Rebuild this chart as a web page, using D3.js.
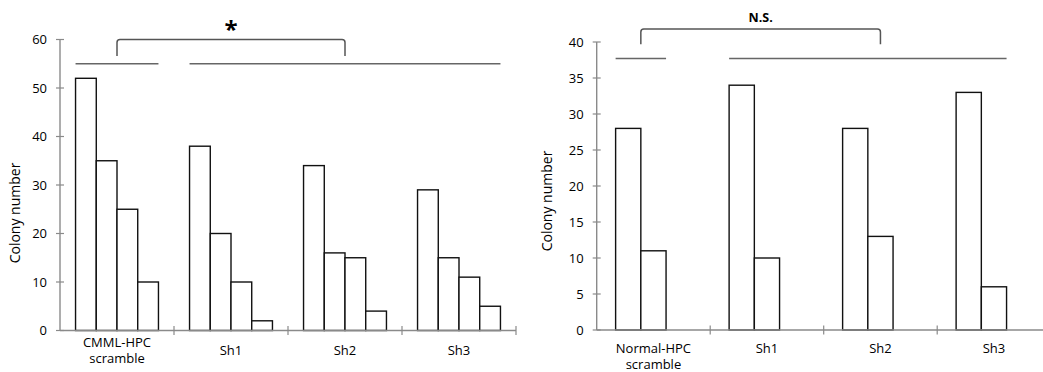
<!DOCTYPE html>
<html>
<head>
<meta charset="utf-8">
<script src="https://cdnjs.cloudflare.com/ajax/libs/d3/7.8.5/d3.min.js"></script>
<style>
  body { margin: 0; background: #fff; }
  svg text { font-family: "Open Sans", Lato, sans-serif; fill: #000; }
</style>
</head>
<body>
<div id="chart"></div>
<script>
// left panel: CMML-HPC, 4 bars per group
var leftCategories = [["CMML-HPC", "scramble"], ["Sh1"], ["Sh2"], ["Sh3"]];
var leftValues = [
  [52, 35, 25, 10],
  [38, 20, 10, 2],
  [34, 16, 15, 4],
  [29, 15, 11, 5]
];
var leftTicks = [0, 10, 20, 30, 40, 50, 60];
var leftGroupLine = 55;       // level of the two grouping lines
var leftBracket = [56.6, 60]; // bracket legs bottom / top
var leftMark = "*";

// right panel: Normal-HPC, 2 bars per group (3 slots, last one empty)
var rightCategories = [["Normal-HPC", "scramble"], ["Sh1"], ["Sh2"], ["Sh3"]];
var rightValues = [
  [28, 11],
  [34, 10],
  [28, 13],
  [33, 6]
];
var rightTicks = [0, 5, 10, 15, 20, 25, 30, 35, 40];
var rightGroupLine = 37.7;
var rightBracket = [39.7, 41.8];
var rightMark = "N.S.";

var svg = d3.select("#chart").append("svg")
  .attr("width", 1043).attr("height", 372);

function drawPanel(p) {
  var g = svg.append("g");
  var names = p.categories.map(function(c) { return c.join(" "); });

  var x0 = d3.scaleBand().domain(names).range([p.left, p.left + 4 * p.band]);
  var x1 = d3.scaleBand().domain(d3.range(p.slots)).range([0, x0.bandwidth()]).paddingOuter(0.75);
  var y = d3.scaleLinear().domain([0, d3.max(p.ticks)]).range([p.bottom, p.top]);

  // bars
  g.selectAll("g.grp").data(p.values).enter().append("g")
    .attr("class", "grp")
    .attr("transform", function(d, i) { return "translate(" + x0(names[i]) + ",0)"; })
    .selectAll("rect").data(function(d) { return d; }).enter().append("rect")
    .attr("x", function(d, i) { return x1(i); })
    .attr("y", function(d) { return y(d); })
    .attr("width", x1.bandwidth())
    .attr("height", function(d) { return y(0) - y(d); })
    .attr("fill", "white")
    .attr("stroke", "#111")
    .attr("stroke-width", 1.4);

  // y axis
  var axisColor = "#8a8a8a";
  g.append("line")
    .attr("x1", p.left).attr("x2", p.left)
    .attr("y1", y(0)).attr("y2", y(d3.max(p.ticks)))
    .attr("stroke", axisColor).attr("stroke-width", 1.4);
  g.selectAll("line.ytick").data(p.ticks).enter().append("line")
    .attr("class", "ytick")
    .attr("x1", p.left - 4).attr("x2", p.left + 4)
    .attr("y1", function(d) { return y(d); }).attr("y2", function(d) { return y(d); })
    .attr("stroke", axisColor).attr("stroke-width", 1.2);
  g.selectAll("text.ylab").data(p.ticks).enter().append("text")
    .attr("class", "ylab")
    .attr("x", p.left - 13)
    .attr("y", function(d) { return y(d); })
    .attr("dy", "0.36em")
    .attr("text-anchor", "end")
    .attr("font-size", "13px")
    .text(function(d) { return d; });

  // x axis
  var xr = x0.range();
  g.append("line")
    .attr("x1", xr[0]).attr("x2", xr[1])
    .attr("y1", y(0)).attr("y2", y(0))
    .attr("stroke", axisColor).attr("stroke-width", 1.4);
  g.selectAll("line.xtick").data(names).enter().append("line")
    .attr("class", "xtick")
    .attr("x1", function(d) { return x0(d) + x0.bandwidth(); })
    .attr("x2", function(d) { return x0(d) + x0.bandwidth(); })
    .attr("y1", y(0) - 4.5).attr("y2", y(0) + 4.5)
    .attr("stroke", axisColor).attr("stroke-width", 1.2);

  g.selectAll("text.xlab").data(p.categories).enter().append("text")
    .attr("class", "xlab")
    .attr("text-anchor", "middle")
    .attr("font-size", "13px")
    .each(function(d, i) {
      var t = d3.select(this);
      var cx = x0(names[i]) + x0.bandwidth() / 2;
      var first = p.labelTop;
      if (p.centerLabels) first = p.labelTop + (2 - d.length) * p.lineGap / 2;
      d.forEach(function(s, k) {
        t.append("tspan").attr("x", cx).attr("y", first + k * p.lineGap).text(s);
      });
    });

  // y title
  g.append("text")
    .attr("transform", "translate(" + p.titleX + "," + p.titleY + ") rotate(-90)")
    .attr("text-anchor", "middle")
    .attr("dy", "0.35em")
    .attr("font-size", "14px")
    .text("Colony number");

  // grouping lines: control group vs the three shRNA groups
  var nBars = p.values[0].length;
  var spans = [
    [x0(names[0]) + x1(0), x0(names[0]) + x1(nBars - 1) + x1.bandwidth()],
    [x0(names[1]) + x1(0), x0(names[3]) + x1(nBars - 1) + x1.bandwidth()]
  ];
  g.selectAll("line.grpline").data(spans).enter().append("line")
    .attr("class", "grpline")
    .attr("x1", function(d) { return d[0]; }).attr("x2", function(d) { return d[1]; })
    .attr("y1", y(p.groupLine)).attr("y2", y(p.groupLine))
    .attr("stroke", "#666").attr("stroke-width", 1.5);

  // bracket
  var bx1 = (spans[0][0] + spans[0][1]) / 2;
  var bx2 = x0(names[2]) + x0.bandwidth() / 2;
  var yb = y(p.bracket[0]), yt = y(p.bracket[1]), r = 3;
  var path = d3.path();
  path.moveTo(bx1, yb);
  path.lineTo(bx1, yt + r);
  path.quadraticCurveTo(bx1, yt, bx1 + r, yt);
  path.lineTo(bx2 - r, yt);
  path.quadraticCurveTo(bx2, yt, bx2, yt + r);
  path.lineTo(bx2, yb);
  g.append("path")
    .attr("d", path.toString())
    .attr("fill", "none")
    .attr("stroke", "#555").attr("stroke-width", 1.5);

  g.append("text")
    .attr("x", (bx1 + bx2) / 2)
    .attr("y", p.markY)
    .attr("text-anchor", "middle")
    .attr("font-weight", "bold")
    .attr("font-size", p.markSize)
    .text(p.mark);
}

drawPanel({
  categories: leftCategories, values: leftValues, ticks: leftTicks, slots: 4,
  left: 60, band: 114, top: 39.5, bottom: 330.5,
  groupLine: leftGroupLine, bracket: leftBracket, mark: leftMark, markY: 38, markSize: "24px",
  labelTop: 347, lineGap: 16, centerLabels: true,
  titleX: 15, titleY: 213
});

drawPanel({
  categories: rightCategories, values: rightValues, ticks: rightTicks, slots: 3,
  left: 596.7, band: 113.5, top: 42, bottom: 330,
  groupLine: rightGroupLine, bracket: rightBracket, mark: rightMark, markY: 21.5, markSize: "12.5px",
  labelTop: 352.5, lineGap: 16, centerLabels: false,
  titleX: 547, titleY: 201
});
</script>
</body>
</html>
